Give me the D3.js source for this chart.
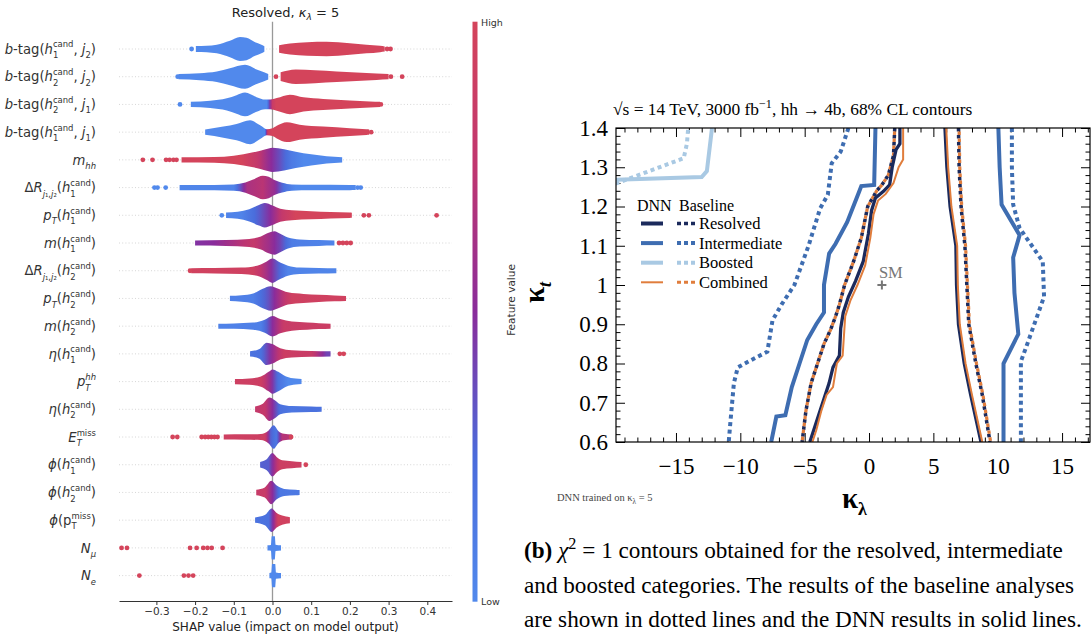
<!DOCTYPE html>
<html><head><meta charset="utf-8">
<script src="https://cdn.jsdelivr.net/npm/d3@7"></script>
<style>body{margin:0;background:#fff}svg{display:block}text{white-space:pre}</style>
</head><body>
<svg id="c" width="1092" height="642"></svg>
<script>
// ---------------- LEFT: SHAP summary (Resolved, kappa_lambda = 5) ----------------
const featureLabels = [
  "*b*-tag(*h*_{1}^{cand}, *j*_{2})",
  "*b*-tag(*h*_{2}^{cand}, *j*_{2})",
  "*b*-tag(*h*_{2}^{cand}, *j*_{1})",
  "*b*-tag(*h*_{1}^{cand}, *j*_{1})",
  "*m*_{*hh*}",
  "Δ*R*_{*j*₁,*j*₂}(*h*_{1}^{cand})",
  "*p*_{*T*}(*h*_{1}^{cand})",
  "*m*(*h*_{1}^{cand})",
  "Δ*R*_{*j*₁,*j*₂}(*h*_{2}^{cand})",
  "*p*_{*T*}(*h*_{2}^{cand})",
  "*m*(*h*_{2}^{cand})",
  "*η*(*h*_{1}^{cand})",
  "*p*_{*T*}^{*hh*}",
  "*η*(*h*_{2}^{cand})",
  "*E*_{*T*}^{miss}",
  "*ϕ*(*h*_{1}^{cand})",
  "*ϕ*(*h*_{2}^{cand})",
  "*ϕ*(p_{T}^{miss})",
  "*N*_{*μ*}",
  "*N*_{*e*}"
];
const shapTicks = [-0.3,-0.2,-0.1,0,0.1,0.2,0.3,0.4];

// spread of the swarm along each row: [SHAP value, relative spread 0..1]
const shapDensity = [
  [[-0.198,0.05],[-0.17,0.08],[-0.144,0.2],[-0.11,0.6],[-0.084,0.98],[-0.067,0.9],[-0.045,0.45],[-0.03,0.22],[-0.021,0.04],[-0.018,0],[0.014,0],[0.017,0.15],[0.045,0.32],[0.09,0.45],[0.14,0.5],[0.2,0.35],[0.243,0.2],[0.278,0.08],[0.29,0.02]],
  [[-0.243,0.02],[-0.188,0.12],[-0.144,0.3],[-0.11,0.62],[-0.071,0.98],[-0.041,0.5],[-0.02,0.18],[-0.011,0.04],[-0.008,0],[0.018,0],[0.021,0.2],[0.06,0.5],[0.11,0.42],[0.166,0.3],[0.217,0.18],[0.269,0.08],[0.3,0.02]],
  [[-0.211,0.02],[-0.161,0.12],[-0.118,0.38],[-0.093,0.7],[-0.071,0.97],[-0.041,0.5],[-0.019,0.25],[-0.006,0.25],[0.011,0.4],[0.045,0.75],[0.08,0.48],[0.131,0.32],[0.2,0.16],[0.252,0.06],[0.278,0.02]],
  [[-0.174,0.03],[-0.127,0.32],[-0.093,0.58],[-0.058,0.98],[-0.032,0.45],[-0.015,0.06],[0.0,0.15],[0.011,0.4],[0.037,0.77],[0.07,0.52],[0.131,0.32],[0.2,0.16],[0.243,0.04],[0.25,0.02]],
  [[-0.235,0.02],[-0.15,0.05],[-0.1,0.18],[-0.05,0.52],[-0.02,0.82],[0.0,1.0],[0.03,0.85],[0.06,0.58],[0.1,0.32],[0.14,0.12],[0.18,0.02]],
  [[-0.24,0.02],[-0.15,0.03],[-0.1,0.08],[-0.07,0.28],[-0.05,0.58],[-0.025,0.95],[-0.01,0.85],[0.005,0.52],[0.025,0.26],[0.05,0.08],[0.1,0.04],[0.2,0.02],[0.215,0.01]],
  [[-0.12,0.03],[-0.09,0.12],[-0.06,0.38],[-0.035,0.8],[-0.02,1.0],[0.0,0.75],[0.02,0.42],[0.05,0.27],[0.1,0.17],[0.15,0.08],[0.2,0.03],[0.205,0.01]],
  [[-0.2,0.02],[-0.12,0.06],[-0.06,0.17],[-0.03,0.42],[-0.01,0.8],[0.005,0.95],[0.02,0.7],[0.04,0.32],[0.07,0.12],[0.12,0.05],[0.16,0.02]],
  [[-0.21,0.02],[-0.15,0.04],[-0.08,0.08],[-0.04,0.27],[-0.015,0.7],[0.0,1.0],[0.015,0.7],[0.04,0.27],[0.07,0.08],[0.12,0.04],[0.165,0.01]],
  [[-0.11,0.02],[-0.08,0.08],[-0.05,0.27],[-0.025,0.75],[-0.005,1.0],[0.015,0.75],[0.04,0.38],[0.08,0.22],[0.12,0.12],[0.16,0.05],[0.19,0.01]],
  [[-0.14,0.01],[-0.1,0.03],[-0.05,0.12],[-0.02,0.42],[0.0,0.8],[0.02,0.48],[0.05,0.22],[0.09,0.12],[0.12,0.05],[0.15,0.01]],
  [[-0.058,0.02],[-0.035,0.22],[-0.015,0.9],[0.0,0.75],[0.02,0.32],[0.05,0.12],[0.1,0.06],[0.15,0.02]],
  [[-0.097,0.02],[-0.06,0.08],[-0.03,0.27],[-0.01,0.75],[0.0,1.0],[0.015,0.75],[0.035,0.27],[0.06,0.06],[0.075,0.01]],
  [[-0.045,0.04],[-0.025,0.32],[-0.008,0.95],[0.005,0.7],[0.02,0.27],[0.05,0.08],[0.1,0.04],[0.127,0.01]],
  [[-0.126,0.02],[-0.07,0.03],[-0.03,0.07],[-0.01,0.42],[0.003,0.95],[0.015,0.38],[0.03,0.08],[0.05,0.01]],
  [[-0.032,0.04],[-0.015,0.32],[0.0,0.95],[0.01,0.58],[0.025,0.22],[0.05,0.12],[0.075,0.04]],
  [[-0.042,0.03],[-0.02,0.27],[-0.003,0.95],[0.01,0.48],[0.03,0.12],[0.06,0.04],[0.07,0.01]],
  [[-0.045,0.03],[-0.02,0.27],[-0.002,0.95],[0.01,0.52],[0.025,0.22],[0.045,0.06]],
  [[-0.013,0.02],[-0.004,0.06],[-0.002,0.95],[0.006,0.95],[0.008,0.08],[0.022,0.02]],
  [[-0.008,0.02],[-0.003,0.06],[-0.001,0.95],[0.007,0.95],[0.009,0.08],[0.022,0.02]]
];

// feature-value colour along each row: [SHAP value, feature value 0 (low) .. 1 (high)]
const shapColorStops = [
  [[-0.4,0],[-0.01,0],[0.01,1],[0.46,1]],
  [[-0.4,0],[-0.01,0],[0.01,1],[0.46,1]],
  [[-0.4,0],[-0.015,0],[0.0,0.85],[0.01,1],[0.46,1]],
  [[-0.4,0],[-0.02,0],[-0.012,0.9],[0.0,1],[0.46,1]],
  [[-0.4,1],[-0.08,1],[-0.04,0.8],[-0.01,0.55],[0.02,0.35],[0.05,0.12],[0.08,0],[0.46,0]],
  [[-0.4,0],[-0.1,0.05],[-0.065,0.65],[-0.025,0.72],[0.005,0.55],[0.03,0.2],[0.06,0],[0.46,0]],
  [[-0.4,0],[-0.08,0.05],[-0.035,0.3],[-0.005,0.5],[0.025,0.8],[0.06,1],[0.46,1]],
  [[-0.4,0.35],[-0.15,0.5],[-0.05,0.8],[-0.01,0.6],[0.02,0.4],[0.05,0.1],[0.13,0.05],[0.46,0]],
  [[-0.4,1],[-0.05,0.92],[-0.015,0.62],[0.01,0.35],[0.04,0.05],[0.46,0]],
  [[-0.4,0],[-0.05,0.08],[-0.01,0.35],[0.02,0.65],[0.05,0.92],[0.46,1]],
  [[-0.4,0],[-0.03,0.08],[0.0,0.5],[0.03,0.85],[0.46,1]],
  [[-0.4,0],[-0.03,0.2],[0.0,0.55],[0.03,0.9],[0.1,0.85],[0.14,0.4],[0.46,0.4]],
  [[-0.4,1],[-0.03,0.9],[-0.005,0.55],[0.015,0.2],[0.04,0],[0.46,0]],
  [[-0.4,0.9],[-0.02,0.8],[0.0,0.5],[0.02,0.2],[0.05,0.15],[0.1,0.2],[0.46,0]],
  [[-0.4,1],[-0.02,0.9],[-0.005,0.3],[0.01,0.15],[0.025,0.7],[0.46,1]],
  [[-0.4,0],[-0.01,0.3],[0.005,0.6],[0.02,0.9],[0.46,1]],
  [[-0.4,0.6],[-0.02,0.85],[0.0,0.5],[0.02,0.15],[0.46,0]],
  [[-0.4,0],[-0.01,0.2],[0.005,0.6],[0.015,0.95],[0.46,1]],
  [[-0.4,0],[0.46,0]],
  [[-0.4,0],[0.46,0]]
];

// isolated points: [row, SHAP value, feature value]
const shapOutliers = [
  [0,-0.209,0],[0,0.296,1],[0,0.305,1],
  [1,-0.245,0],[1,0.009,1],[1,0.306,1],[1,0.335,1],
  [2,-0.239,0],[2,0.28,1],
  [3,0.255,1],
  [4,-0.335,1],[4,-0.31,1],[4,-0.275,1],[4,-0.266,1],[4,-0.256,1],[4,-0.248,1],
  [5,-0.305,0],[5,-0.297,0],[5,-0.276,0],[5,0.22,0],[5,0.228,0],
  [6,-0.131,0],[6,0.236,1],[6,0.249,1],[6,0.424,1],
  [7,0.172,1],[7,0.182,1],[7,0.192,1],[7,0.202,1],
  [8,-0.213,1],
  [11,0.174,1],[11,0.184,1],
  [14,-0.258,1],[14,-0.246,1],[14,-0.183,1],[14,-0.174,1],[14,-0.166,1],[14,-0.158,1],[14,-0.15,1],[14,-0.142,1],[14,0.048,1],
  [15,0.086,1],
  [18,-0.39,1],[18,-0.376,1],[18,-0.213,1],[18,-0.196,1],[18,-0.179,1],[18,-0.168,1],[18,-0.157,1],[18,-0.129,1],
  [19,-0.344,1],[19,-0.229,1],[19,-0.217,1],[19,-0.205,1]
];
const cmapColors = ["#5189ec","#4a6bdb","#8a2c9b","#c0366f","#d4445b"];

// ---------------- RIGHT: kappa_lambda / kappa_t contours ----------------
const xTicksK = [-15,-10,-5,0,5,10,15];
const xTickLabelsK = ["−15","−10","−5","0","5","10","15"];
const yTicksK = [0.6,0.7,0.8,0.9,1.0,1.1,1.2,1.3,1.4];
const yTickLabelsK = ["0.6","0.7","0.8","0.9","1","1.1","1.2","1.3","1.4"];

const boostedDNN  = [[-19.7,1.268],[-13.0,1.275],[-12.6,1.29],[-12.2,1.4]];
const boostedBase = [[-19.7,1.258],[-14.4,1.323],[-14.15,1.36],[-14.05,1.4]];
const interDNNLeft  = [[0.5,1.4],[0.4,1.255],[-0.6,1.252],[-0.8,1.235],[-1.7,1.16],[-2.6,1.105],[-3.1,1.08],[-3.5,1.0],[-3.5,0.93],[-4.1,0.9],[-4.8,0.86],[-5.4,0.8],[-6.0,0.74],[-6.5,0.668],[-7.2,0.665],[-7.6,0.6]];
const interDNNRight = [[10.05,1.4],[10.15,1.3],[10.3,1.205],[11.7,1.127],[11.2,1.07],[11.3,0.98],[11.6,0.875],[10.45,0.8],[10.45,0.6]];
const interBaseLeft  = [[-1.6,1.4],[-2.2,1.34],[-2.9,1.31],[-3.2,1.23],[-3.8,1.195],[-4.7,1.1],[-5.8,1.0],[-6.8,0.95],[-7.5,0.91],[-7.9,0.83],[-8.8,0.815],[-10.2,0.79],[-10.5,0.75],[-10.8,0.64],[-10.9,0.6]];
const interBaseRight = [[11.1,1.4],[11.1,1.3],[11.2,1.205],[11.7,1.145],[13.5,1.06],[13.6,0.97],[12.3,0.85],[11.8,0.805],[11.8,0.6]];
const resDNNLeft  = [[2.4,1.4],[2.4,1.36],[2.1,1.345],[1.8,1.3],[1.6,1.255],[1.1,1.238],[0.5,1.222],[0.2,1.19],[-0.05,1.13],[-0.45,1.06],[-1.05,1.01],[-1.6,0.97],[-2.0,0.93],[-2.2,0.89],[-2.3,0.82],[-2.8,0.79],[-3.1,0.75],[-3.5,0.71],[-3.9,0.67],[-4.3,0.63],[-4.6,0.6]];
const resDNNRight = [[5.9,1.4],[6.05,1.3],[6.3,1.2],[6.75,1.1],[6.8,1.0],[6.95,0.9],[7.4,0.8],[7.9,0.72],[8.3,0.66],[8.7,0.6]];
const resBaseLeft  = [[2.0,1.4],[1.9,1.33],[1.5,1.28],[1.0,1.255],[0.6,1.24],[-0.1,1.2],[-0.6,1.12],[-1.2,1.06],[-1.9,1.0],[-2.3,0.95],[-2.6,0.92],[-3.0,0.885],[-3.5,0.85],[-4.0,0.8],[-4.5,0.75],[-4.9,0.68],[-5.2,0.6]];
const resBaseRight = [[6.95,1.4],[7.0,1.3],[7.15,1.2],[7.45,1.1],[7.6,1.0],[7.75,0.9],[8.3,0.8],[8.8,0.72],[9.1,0.66],[9.4,0.6]];
const combDNNLeft  = [[2.65,1.4],[2.65,1.32],[2.3,1.3],[1.9,1.26],[1.3,1.232],[0.7,1.215],[0.35,1.18],[0.1,1.12],[-0.3,1.05],[-0.9,1.0],[-1.45,0.96],[-1.85,0.92],[-2.05,0.82],[-2.5,0.8],[-2.8,0.74],[-3.3,0.72],[-3.7,0.68],[-4.1,0.63],[-4.4,0.6]];
const combDNNRight = [[6.0,1.4],[6.15,1.3],[6.4,1.2],[6.85,1.1],[6.9,1.0],[7.05,0.9],[7.5,0.8],[8.0,0.72],[8.4,0.66],[8.8,0.6]];
const combBaseLeft  = [[2.0,1.4],[1.9,1.33],[1.5,1.28],[1.0,1.255],[0.6,1.24],[-0.1,1.2],[-0.6,1.12],[-1.2,1.06],[-1.9,1.0],[-2.3,0.95],[-2.6,0.92],[-3.0,0.885],[-3.5,0.85],[-4.0,0.8],[-4.5,0.75],[-4.9,0.68],[-5.2,0.6]];
const combBaseRight = [[7.0,1.4],[7.05,1.3],[7.2,1.2],[7.5,1.1],[7.65,1.0],[7.8,0.9],[8.35,0.8],[8.85,0.72],[9.15,0.66],[9.45,0.6]];
const smPoint = [1,1];
const legendNames = ["Resolved","Intermediate","Boosted","Combined"];

// ---------------- helpers ----------------
const SANS = "DejaVu Sans", SERIF = "Liberation Serif";
const svg = d3.select("#c");

function parseRuns(s){
  const out=[]; let it=false, buf="";
  for (const ch of s){ if (ch==="*"){ if(buf){out.push({t:buf,it});buf="";} it=!it; } else buf+=ch; }
  if (buf) out.push({t:buf,it});
  return out;
}
function parseMath(s){
  const items=[]; let i=0, buf="";
  const flush=()=>{ if(buf){ items.push({lv:0,runs:parseRuns(buf)}); buf=""; } };
  while (i<s.length){
    const c=s[i];
    if ((c==="_"||c==="^") && s[i+1]==="{"){
      flush(); let j=i+2, depth=1;
      while (j<s.length && depth>0){ if(s[j]==="{")depth++; else if(s[j]==="}")depth--; j++; }
      items.push({lv:c==="_"?1:2, runs:parseRuns(s.slice(i+2,j-1))});
      i=j;
    } else { buf+=c; i++; }
  }
  flush(); return items;
}
function drawMath(parent, markup, o){
  const t = parent.append("text")
    .attr("font-family", o.family).attr("fill", o.fill||"#000")
    .attr("font-weight", o.weight||"normal").attr("font-size", o.size);
  const fs=o.size, ss=fs*(o.scriptScale||0.7);
  let x=0, subStart=0, subEnd=0, prevLv=0;
  for (const it of parseMath(markup)){
    let start, dy, size;
    if (it.lv===0){ start=x; dy=0; size=fs; }
    else if (it.lv===1){ start=x; dy=fs*(o.subShift||0.28); size=ss; }
    else { start=(prevLv===1)?subStart:x; dy=-fs*(o.supShift||0.38); size=ss; }
    let cx=start;
    for (const r of it.runs){
      const sp=t.append("tspan").attr("x",cx).attr("y",dy).attr("font-size",size)
        .attr("font-style", r.it?"italic":"normal").text(r.t);
      cx += sp.node().getComputedTextLength();
    }
    if (it.lv===1){ subStart=start; subEnd=cx; x=cx; }
    else if (it.lv===2){ x=Math.max(cx, prevLv===1?subEnd:x); }
    else x=cx;
    prevLv=it.lv;
  }
  const off = o.anchor==="end" ? -x : o.anchor==="middle" ? -x/2 : 0;
  t.attr("transform", `translate(${o.x},${o.y}) rotate(${o.rotate||0}) translate(${off},0)`);
  return x;
}

// ---------------- draw left ----------------
const cmap = d3.piecewise(d3.interpolateRgb, cmapColors);
const xs = d3.scaleLinear().domain([-0.3966,0.4638]).range([119,452]);
const rowY = d3.scaleLinear().domain([0,19]).range([49,575.6]);
const dotR = 2.4, maxH = 12.2;
const defs = svg.append("defs");
const L = svg.append("g");

L.selectAll("line.row").data(featureLabels).join("line")
  .attr("x1",xs.range()[0]).attr("x2",xs.range()[1])
  .attr("y1",(d,i)=>rowY(i)).attr("y2",(d,i)=>rowY(i))
  .attr("stroke","#cccccc").attr("stroke-width",0.8).attr("stroke-dasharray","1,2.2");
L.append("line").attr("x1",xs(0)).attr("x2",xs(0)).attr("y1",21.7).attr("y2",601)
  .attr("stroke","#999").attr("stroke-width",1.3);

const gx0 = xs(-0.4), gx1 = xs(0.46);
shapColorStops.forEach((stops,i)=>{
  const gr = defs.append("linearGradient").attr("id","rg"+i)
    .attr("gradientUnits","userSpaceOnUse").attr("x1",gx0).attr("x2",gx1).attr("y1",0).attr("y2",0);
  for (let k=0;k<stops.length;k++){
    const [v,f]=stops[k];
    if (k>0){
      const [pv,pf]=stops[k-1];
      for (let s=1;s<4;s++){
        const tt=s/4, vv=pv+(v-pv)*tt, ff=pf+(f-pf)*tt;
        gr.append("stop").attr("offset",(xs(vv)-gx0)/(gx1-gx0)).attr("stop-color",cmap(ff));
      }
    }
    gr.append("stop").attr("offset",(xs(v)-gx0)/(gx1-gx0)).attr("stop-color",cmap(f));
  }
});

shapDensity.forEach((prof,i)=>{
  const y=rowY(i);
  const area=d3.area().defined(d=>d[1]>0)
    .x(d=>xs(d[0]))
    .y0(d=>y-(dotR+d[1]*(maxH-dotR)))
    .y1(d=>y+(dotR+d[1]*(maxH-dotR)))
    .curve(d3.curveMonotoneX);
  L.append("path").attr("d",area(prof)).attr("fill",`url(#rg${i})`);
});
L.selectAll("circle.o").data(shapOutliers).join("circle")
  .attr("cx",d=>xs(d[1])).attr("cy",d=>rowY(d[0])).attr("r",dotR)
  .attr("fill",d=>cmap(d[2]));

const ax = L.append("g").attr("transform","translate(0,601)")
  .call(d3.axisBottom(xs).tickValues(shapTicks).tickFormat(d3.format(".1f")).tickSize(4).tickSizeOuter(0).tickPadding(3));
ax.select(".domain").attr("stroke","#333");
ax.selectAll(".tick line").attr("stroke","#333");
ax.selectAll("text").attr("font-family",SANS).attr("font-size",10.5).attr("fill","#333");
L.append("text").attr("x",(xs.range()[0]+xs.range()[1])/2).attr("y",631).attr("text-anchor","middle")
  .attr("font-family",SANS).attr("font-size",12).attr("fill","#222").text("SHAP value (impact on model output)");

featureLabels.forEach((lab,i)=>{
  drawMath(L, lab, {x:96, y:rowY(i)+4.7, size:13.2, family:SANS, fill:"#333", anchor:"end",
    scriptScale:0.64, subShift:0.33, supShift:0.47});
});
drawMath(L, "Resolved, *κ*_{*λ*} = 5", {x:285.5, y:16.5, size:13, family:SANS, fill:"#222", anchor:"middle"});

const cbg = defs.append("linearGradient").attr("id","cbar").attr("x1",0).attr("x2",0).attr("y1",1).attr("y2",0);
cmapColors.forEach((c,k)=>cbg.append("stop").attr("offset",k/(cmapColors.length-1)).attr("stop-color",c));
L.append("rect").attr("x",472.5).attr("y",21.7).attr("width",5).attr("height",580).attr("fill","url(#cbar)");
L.append("text").attr("x",481).attr("y",25.5).attr("font-family",SANS).attr("font-size",9.5).attr("fill","#333").text("High");
L.append("text").attr("x",481).attr("y",605).attr("font-family",SANS).attr("font-size",9.5).attr("fill","#333").text("Low");
L.append("text").attr("transform","translate(515,300) rotate(-90)").attr("text-anchor","middle")
  .attr("font-family",SANS).attr("font-size",10.5).attr("fill","#333").text("Feature value");

// ---------------- draw right ----------------
const R = svg.append("g");
const xk = d3.scaleLinear().domain([-19.66,17.17]).range([616,1090]);
const yk = d3.scaleLinear().domain([0.6,1.4]).range([442,128]);
defs.append("clipPath").attr("id","pc").append("rect")
  .attr("x",616).attr("y",128).attr("width",474).attr("height",314);

const xMinor = d3.range(-19,18).filter(v=>!xTicksK.includes(v));
const yMinor = d3.range(0,41).map(k=>+(0.6+k*0.02).toFixed(2)).filter(v=>!yTicksK.some(t=>Math.abs(t-v)<1e-6));
function styleAxis(g){ g.select(".domain").remove(); g.selectAll(".tick line").attr("stroke","#000").attr("stroke-width",1); }

R.append("g").attr("transform","translate(0,442)")
  .call(d3.axisBottom(xk).tickValues(xTicksK).tickFormat((d,i)=>xTickLabelsK[i]).tickSizeInner(-9).tickSizeOuter(0).tickPadding(16))
  .call(styleAxis).selectAll("text").attr("font-family",SERIF).attr("font-size",23).attr("fill","#000");
R.append("g").attr("transform","translate(0,442)")
  .call(d3.axisBottom(xk).tickValues(xMinor).tickFormat("").tickSizeInner(-4.5).tickSizeOuter(0)).call(styleAxis);
R.append("g").attr("transform","translate(0,128)")
  .call(d3.axisTop(xk).tickValues(xTicksK).tickFormat("").tickSizeInner(-9).tickSizeOuter(0)).call(styleAxis);
R.append("g").attr("transform","translate(0,128)")
  .call(d3.axisTop(xk).tickValues(xMinor).tickFormat("").tickSizeInner(-4.5).tickSizeOuter(0)).call(styleAxis);
R.append("g").attr("transform","translate(616,0)")
  .call(d3.axisLeft(yk).tickValues(yTicksK).tickFormat((d,i)=>yTickLabelsK[i]).tickSizeInner(-9).tickSizeOuter(0).tickPadding(8))
  .call(styleAxis).selectAll("text").attr("font-family",SERIF).attr("font-size",23).attr("fill","#000");
R.append("g").attr("transform","translate(616,0)")
  .call(d3.axisLeft(yk).tickValues(yMinor).tickFormat("").tickSizeInner(-4.5).tickSizeOuter(0)).call(styleAxis);
R.append("g").attr("transform","translate(1090,0)")
  .call(d3.axisRight(yk).tickValues(yTicksK).tickFormat("").tickSizeInner(-9).tickSizeOuter(0)).call(styleAxis);
R.append("g").attr("transform","translate(1090,0)")
  .call(d3.axisRight(yk).tickValues(yMinor).tickFormat("").tickSizeInner(-4.5).tickSizeOuter(0)).call(styleAxis);

const cBoost="#a9c9e3", cInter="#3e6db1", cRes="#1b2a5c", cComb="#e07d3c";
const line = d3.line().x(d=>xk(d[0])).y(d=>yk(d[1]));
const P = R.append("g").attr("clip-path","url(#pc)").attr("fill","none");
const series = [
  [boostedBase, cBoost, 4, "4,3.5", 0],
  [boostedDNN, cBoost, 4, null, 0],
  [interBaseLeft, cInter, 4, "4,3.5", 0],
  [interBaseRight, cInter, 4, "4,3.5", 0],
  [interDNNLeft, cInter, 4, null, 0],
  [interDNNRight, cInter, 4, null, 0],
  [resBaseLeft, cRes, 3.5, "3.5,3.5", 0],
  [resBaseRight, cRes, 3.5, "3.5,3.5", 0],
  [combBaseLeft, cComb, 3.2, "3.5,3.5", 3.5],
  [combBaseRight, cComb, 3.2, "3.5,3.5", 3.5],
  [resDNNLeft, cRes, 3.3, null, 0],
  [resDNNRight, cRes, 3.3, null, 0],
  [combDNNLeft, cComb, 2, null, 0],
  [combDNNRight, cComb, 2, null, 0]
];
series.forEach(([data,c,w,dash,off])=>{
  const p=P.append("path").attr("d",line(data)).attr("stroke",c).attr("stroke-width",w);
  if (dash) p.attr("stroke-dasharray",dash).attr("stroke-dashoffset",off);
});
R.append("rect").attr("x",616).attr("y",128).attr("width",474).attr("height",314)
  .attr("fill","none").attr("stroke","#000").attr("stroke-width",1.2);

const smx=xk(smPoint[0]), smy=yk(smPoint[1]);
R.append("path").attr("d",`M${smx-4.5},${smy}H${smx+4.5}M${smx},${smy-4.5}V${smy+4.5}`)
  .attr("stroke","#777").attr("stroke-width",2);
R.append("text").attr("x",smx-3).attr("y",smy-7.5).attr("font-family",SERIF).attr("font-size",16.5).attr("fill","#777").text("SM");

R.append("text").attr("x",637).attr("y",210.5).attr("font-family",SERIF).attr("font-size",16).text("DNN");
R.append("text").attr("x",679).attr("y",210.5).attr("font-family",SERIF).attr("font-size",16).text("Baseline");
const legStyle = [[cRes,4,3.5],[cInter,4,4],[cBoost,4,4],[cComb,2,3]];
legendNames.forEach((n,k)=>{
  const y=223.5+k*19.6;
  const [c,w,wd]=legStyle[k];
  R.append("line").attr("x1",641).attr("x2",663).attr("y1",y).attr("y2",y).attr("stroke",c).attr("stroke-width",w);
  R.append("line").attr("x1",677).attr("x2",696).attr("y1",y).attr("y2",y).attr("stroke",c).attr("stroke-width",wd).attr("stroke-dasharray","4,3");
  R.append("text").attr("x",699).attr("y",y+5.5).attr("font-family",SERIF).attr("font-size",16.5).text(n);
});

drawMath(R, "√s = 14 TeV, 3000 fb^{−1}, hh → 4b, 68% CL contours", {x:613, y:115, size:17.4, family:SERIF, fill:"#000", supShift:0.4});
drawMath(R, "κ_{λ}", {x:842, y:508, size:29, family:SERIF, weight:"bold", scriptScale:0.62, subShift:0.25});
drawMath(R, "κ_{*t*}", {x:544, y:303, size:29, family:SERIF, weight:"bold", rotate:-90, scriptScale:0.62, subShift:0.25});
drawMath(R, "DNN trained on κ_{λ} = 5", {x:557, y:501, size:10.5, family:SERIF, fill:"#444"});

const capSize=23.2;
const wb = drawMath(R, "(b)", {x:524, y:558, size:capSize, family:SERIF, weight:"bold"});
drawMath(R, " *χ*^{2} = 1 contours obtained for the resolved, intermediate", {x:524+wb, y:558, size:capSize, family:SERIF});
drawMath(R, "and boosted categories. The results of the baseline analyses", {x:524, y:592.5, size:capSize, family:SERIF});
drawMath(R, "are shown in dotted lines and the DNN results in solid lines.", {x:524, y:627, size:capSize, family:SERIF});
</script>
</body></html>
